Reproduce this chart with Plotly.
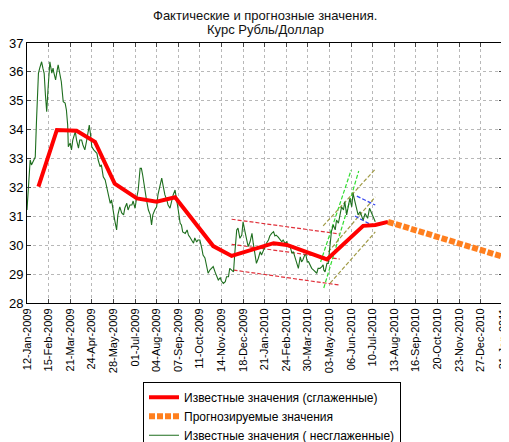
import pandas as pd
import plotly.graph_objects as go

BASE = "2009-01-12"

# days since 12-Jan-2009 and values of the raw (unsmoothed) series
green_days = [0, 5, 7, 10, 13, 15, 18, 20, 23, 25, 27, 29, 31, 33, 36, 39, 41, 42, 45, 47, 49,
              54, 55, 57, 60, 62, 64, 65, 68, 70, 72, 76, 78, 81, 83, 86, 88, 91, 94, 98, 100,
              102, 105, 110, 112, 115, 117, 120, 123, 125, 127, 131, 133, 136, 138, 141, 143,
              146, 149, 152, 154, 157, 159, 162, 165, 167, 170, 172, 175, 178, 180, 182, 186,
              188, 191, 194, 196, 198, 201, 204, 206, 209, 212, 214, 217, 220, 222, 225, 228,
              230, 233, 235, 238, 241, 243, 245, 249, 252, 254, 256, 259, 262, 264, 267, 269,
              272, 275, 277, 280, 282, 285, 288, 290, 293, 296, 298, 301, 304, 306, 309, 312,
              314, 317, 319, 322, 325, 327, 330, 332, 335, 338, 340, 343, 346, 348, 351, 354,
              356, 359, 361, 364, 367, 369, 372, 375, 377, 380, 382, 385, 388, 390, 392, 395,
              398, 401, 403, 406, 409, 411, 414, 417, 419, 422, 424, 427, 430, 432, 434, 437,
              439, 441, 443, 445, 448, 451, 453, 456, 458, 461, 464, 466, 467, 469, 472, 474,
              475, 477, 479, 482, 485, 487, 490, 493, 495, 498, 499, 500, 503, 506, 508, 511,
              513, 516, 519, 521, 524, 527, 529, 532, 536, 539, 542, 545, 548]
green_vals = [31.22, 32.95, 32.78, 32.95, 33.05, 34.33, 35.95, 36.13, 36.35, 36.13, 35.95, 35.20,
              34.62, 35.37, 36.35, 35.96, 36.13, 36.00, 35.72, 36.00, 36.24, 35.66, 35.37, 34.97,
              34.92, 34.68, 34.16, 33.41, 33.54, 33.30, 33.64, 33.93, 33.64, 33.36, 33.64, 33.64,
              33.47, 33.30, 33.64, 34.16, 33.82, 33.41, 33.30, 33.18, 32.95, 32.72, 32.78, 32.37,
              32.26, 32.03, 31.91, 31.45, 31.57, 31.10, 30.87, 30.53, 31.05, 31.33, 31.12, 31.05,
              31.29, 31.45, 31.22, 31.39, 31.39, 31.53, 31.28, 31.57, 31.91, 32.66, 32.66, 32.43,
              31.80, 31.57, 31.22, 31.05, 30.70, 31.05, 31.22, 31.33, 31.74, 32.08, 32.32, 32.08,
              31.74, 31.57, 31.39, 31.28, 31.57, 31.74, 31.91, 31.57, 31.22, 30.76, 30.70, 30.46,
              30.41, 30.53, 30.35, 30.29, 30.18, 30.07, 30.25, 30.11, 30.18, 30.18, 29.90, 29.66,
              29.56, 29.32, 29.03, 29.15, 29.21, 29.26, 29.07, 28.97, 28.80, 28.87, 28.76, 28.68,
              28.74, 28.91, 28.91, 29.20, 29.14, 29.08, 29.72, 30.53, 30.59, 30.24, 30.35, 30.81,
              30.47, 30.12, 29.95, 30.12, 30.41, 30.07, 29.72, 29.37, 29.55, 29.78, 29.66, 29.83,
              29.95, 30.08, 30.18, 30.32, 30.41, 30.47, 30.32, 30.35, 30.29, 30.18, 30.12, 30.18,
              30.07, 30.12, 29.95, 29.95, 29.72, 29.78, 29.55, 29.42, 29.20, 29.60, 29.42, 29.49,
              29.66, 29.66, 29.42, 29.43, 29.32, 29.20, 29.14, 29.08, 29.03, 29.20, 29.20, 29.26,
              29.32, 29.14, 29.08, 29.37, 29.37, 29.60, 29.95, 30.47, 30.70, 30.53, 30.87, 30.76,
              31.10, 31.33, 31.22, 31.39, 31.51, 31.05, 31.45, 31.62, 31.33, 31.80, 31.51, 31.22,
              31.05, 31.16, 30.99, 30.87, 31.10, 30.93, 31.28, 31.10, 30.93, 30.81]

# smoothed known values
smooth_days = [18, 47, 78, 107, 138, 173, 204, 233, 293, 322, 388, 409, 472, 506, 529, 548, 568]
smooth_vals = [32.03, 33.99, 33.96, 33.58, 32.13, 31.62, 31.51, 31.66, 29.97, 29.63, 30.07,
               30.01, 29.51, 30.18, 30.67, 30.70, 30.81]

# forecast
fc_days = [568, 749]
fc_vals = [30.81, 29.60]

# trend channel lines: (day0, val0, day1, val1)
red_channel = [(322, 30.90, 492, 30.39), (322, 30.03, 492, 29.52), (325, 29.14, 492, 28.62)]
green_channel = [(467, 28.52, 522, 32.57), (462, 29.42, 510, 32.60)]
olive_channel = [(466, 30.67, 548, 32.63), (474, 29.77, 548, 31.67), (477, 28.69, 548, 30.46)]
blue_channel = [(519, 31.70, 548, 31.39), (516, 31.01, 548, 30.63)]

tick_labels = ["12-Jan-2009", "15-Feb-2009", "21-Mar-2009", "24-Apr-2009", "28-May-2009",
               "01-Jul-2009", "04-Aug-2009", "07-Sep-2009", "11-Oct-2009", "14-Nov-2009",
               "18-Dec-2009", "21-Jan-2010", "24-Feb-2010", "30-Mar-2010", "03-May-2010",
               "06-Jun-2010", "10-Jul-2010", "13-Aug-2010", "16-Sep-2010", "20-Oct-2010",
               "23-Nov-2010", "27-Dec-2010", "31-Jan-2011"]
y_ticks = [28, 29, 30, 31, 32, 33, 34, 35, 36, 37]
title_lines = ["Фактические и прогнозные значения.", "Курс Рубль/Доллар"]


def to_dates(days):
    return pd.to_datetime(BASE) + pd.to_timedelta(days, unit="D")


fig = go.Figure()

for color, lines in [("#e0303a", red_channel), ("#33dd33", green_channel),
                     ("#a09a45", olive_channel), ("#3344ee", blue_channel)]:
    for d0, v0, d1, v1 in lines:
        fig.add_trace(go.Scatter(x=to_dates([d0, d1]), y=[v0, v1], mode="lines",
                                 line=dict(color=color, width=1.2, dash="4px,2px"),
                                 showlegend=False, hoverinfo="skip"))

fig.add_trace(go.Scatter(x=to_dates(green_days), y=green_vals, mode="lines",
                         line=dict(color="#1e6e1e", width=1.1),
                         name="Известные значения ( несглаженные)", legendrank=3))
fig.add_trace(go.Scatter(x=to_dates(smooth_days), y=smooth_vals, mode="lines",
                         line=dict(color="#ff0000", width=4),
                         name="Известные значения (сглаженные)", legendrank=1))
fig.add_trace(go.Scatter(x=to_dates(fc_days), y=fc_vals, mode="lines",
                         line=dict(color="#ff7f1e", width=6, dash="6px,2px"),
                         name="Прогнозируемые значения", legendrank=2))

tick_dates = pd.to_datetime(tick_labels, format="%d-%b-%Y")

for txt, yy in zip(title_lines, [1.106, 1.05]):
    fig.add_annotation(text=txt, xref="paper", yref="paper", x=0.5, y=yy,
                       xanchor="center", yanchor="middle", showarrow=False,
                       font=dict(size=13, color="#111111"))

# page body has an 8px margin; figure is sized/offset to compensate
fig.update_layout(
    width=501, height=434,
    margin=dict(l=19, r=6, t=35, b=139, autoexpand=False),
    paper_bgcolor="white", plot_bgcolor="white",
    font=dict(family="Liberation Sans, Arial, sans-serif", color="black", size=11),
    showlegend=True,
    legend=dict(x=0.2437, y=-0.303, xanchor="left", yanchor="top",
                bordercolor="black", borderwidth=1, bgcolor="white",
                font=dict(size=12), tracegroupgap=0, itemwidth=30),
    xaxis=dict(type="date", range=[tick_dates[0], tick_dates[-1]],
               tickvals=tick_dates, ticktext=tick_labels, tickangle=-90,
               tickfont=dict(size=11), showgrid=True, gridcolor="#b8b8b8",
               griddash="dot", gridwidth=1, ticks="inside", ticklen=4,
               showline=True, linecolor="black", linewidth=1, mirror="ticks",
               zeroline=False),
    yaxis=dict(range=[28, 37], tickvals=y_ticks, tickfont=dict(size=13),
               showgrid=True, gridcolor="#b8b8b8", griddash="dot", gridwidth=1,
               ticks="inside", ticklen=4, showline=True, linecolor="black",
               linewidth=1, mirror="ticks", zeroline=False),
)

fig.write_html("out.html")
